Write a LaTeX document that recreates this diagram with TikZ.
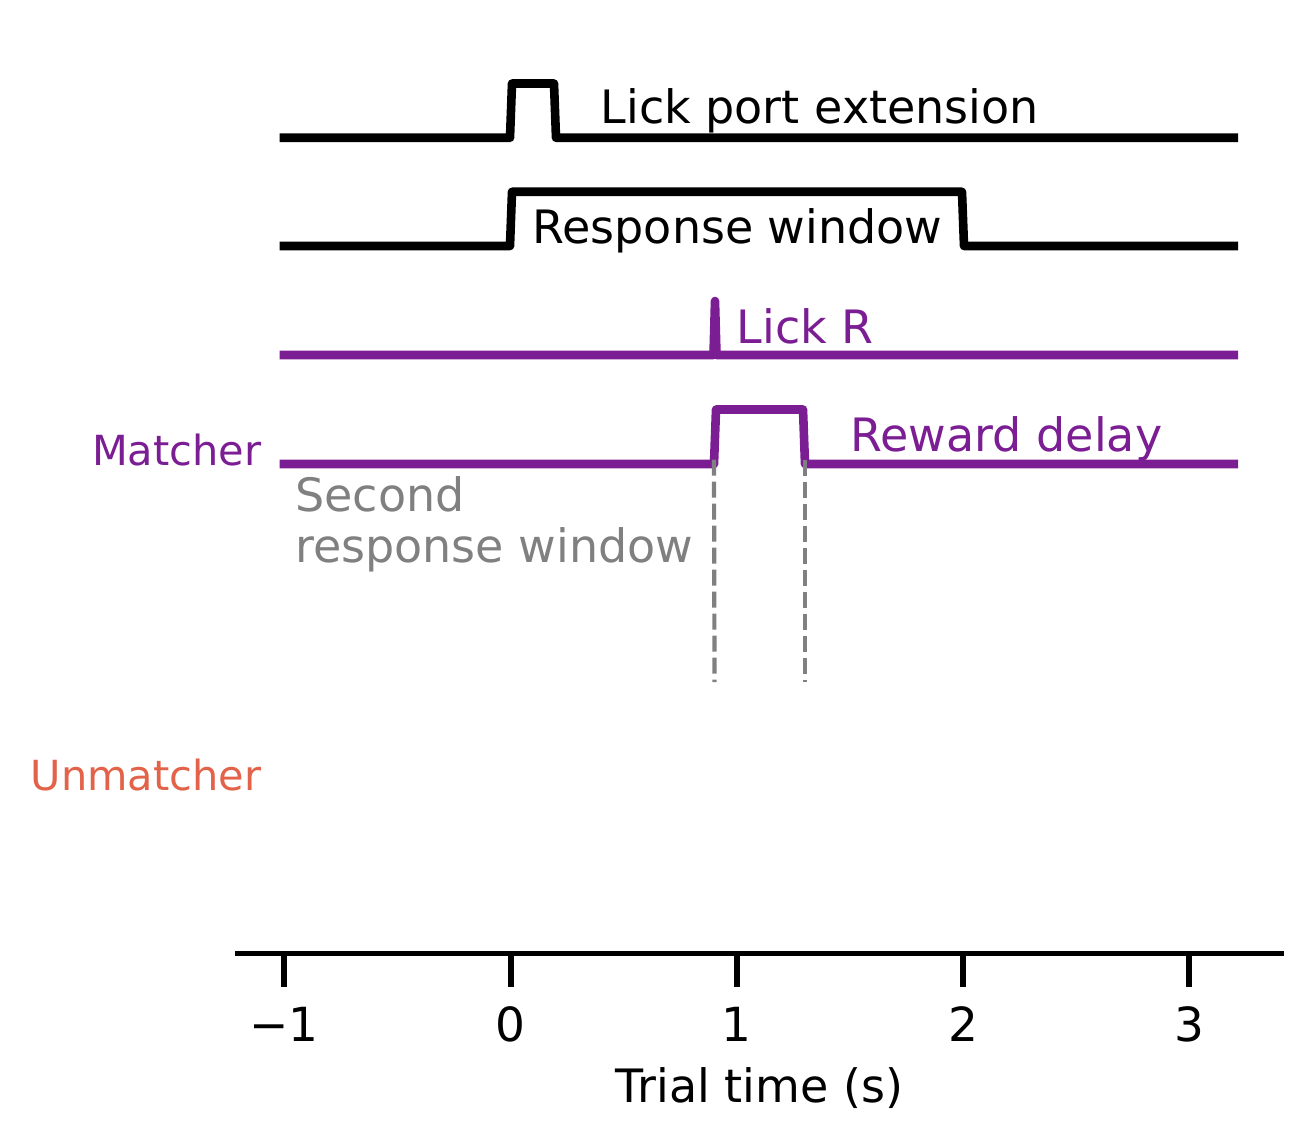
\documentclass[tikz,border=0pt]{standalone}
\usepackage{fontspec}
\setmainfont{DejaVu Sans}
\definecolor{mpurple}{RGB}{123,29,147}
\definecolor{morange}{RGB}{226,99,74}
\definecolor{mgray}{RGB}{128,128,128}
\begin{document}
\begin{tikzpicture}[x=1pt,y=-1pt,
  trace/.style={line width=8.6pt,line join=round,line cap=butt},
  lab/.style={inner sep=0pt,font=\fontsize{46}{51.5}\selectfont},
  sidelab/.style={inner sep=0pt,anchor=base east,font=\fontsize{41.5}{45}\selectfont},
  guide/.style={mgray,line width=4.2pt,dash pattern=on 16pt off 6pt},
  tickmark/.style={line width=6pt},
  ticklab/.style={inner sep=0pt,anchor=base,font=\fontsize{47}{50}\selectfont}]
\useasboundingbox (0,0) rectangle (1312,1142);
% Lick port extension
\coordinate (a0) at (279.5,137.8);
\coordinate (a1) at (510,137.8);
\coordinate (a2) at (512,83.5);
\coordinate (a3) at (554,83.5);
\coordinate (a4) at (556,137.8);
\coordinate (a5) at (1238,137.8);
\draw[trace] (a0) -- (a1) -- (a2) -- (a3) -- (a4) -- (a5);
\node[lab,anchor=base west] (lpe) at (600.5,123.5) {Lick port extension};
% Response window
\coordinate (b0) at (279.5,246);
\coordinate (b1) at (510,246);
\coordinate (b2) at (512,191.8);
\coordinate (b3) at (962,191.8);
\coordinate (b4) at (964,246);
\coordinate (b5) at (1238,246);
\draw[trace] (b0) -- (b1) -- (b2) -- (b3) -- (b4) -- (b5);
\node[lab,anchor=base] (rw) at (737.5,243.5) {Response window};
% Lick R
\coordinate (c0) at (279.5,355);
\coordinate (c1) at (713.5,355);
\coordinate (c2) at (715,301);
\coordinate (c3) at (716.5,355);
\coordinate (c4) at (1238,355);
\draw[mpurple,trace] (c0) -- (c1) -- (c2) -- (c3) -- (c4);
\node[lab,mpurple,anchor=base west] (lr) at (736.5,343.5) {Lick R};
% Reward delay
\coordinate (d0) at (279.5,464);
\coordinate (d1) at (714,464);
\coordinate (d2) at (716,409.5);
\coordinate (d3) at (803,409.5);
\coordinate (d4) at (805,464);
\coordinate (d5) at (1238,464);
\draw[mpurple,trace] (d0) -- (d1) -- (d2) -- (d3) -- (d4) -- (d5);
\node[lab,mpurple,anchor=base west] (rd) at (850.5,451.5) {Reward delay};
% guides
\coordinate (g1) at (714.5,682);
\coordinate (g2) at (805,682);
\draw[guide] ([yshift=4.3pt]d1) -- (g1);
\draw[guide] ([yshift=4.3pt]d4) -- (g2);
\node[lab,mgray,anchor=base west,align=left] (srw) at (295,562.5) {Second\\response window};
% side labels
\node[sidelab,mpurple] (matcher) at (261.5,465) {Matcher};
\node[sidelab,morange] (unmatcher) at (261.5,790) {Unmatcher};
% axis
\coordinate (axl) at (235,953.3);
\coordinate (axr) at (1284,953.3);
\draw[line width=5.3pt] (axl) -- (axr);
\foreach \t/\l in {-1/−1,0/0,1/1,2/2,3/3}{
  \coordinate (tk\t) at ({510.5+226.3*\t},953);
  \draw[tickmark] (tk\t) -- ++(0,33.5);
  \node[ticklab] (tl\t) at ({510.5+226.3*\t},1041) {\l};
}
\node[ticklab,font=\fontsize{46}{50}\selectfont] (xlabel) at (759.5,1102) {Trial time (s)};
\end{tikzpicture}
\end{document}
